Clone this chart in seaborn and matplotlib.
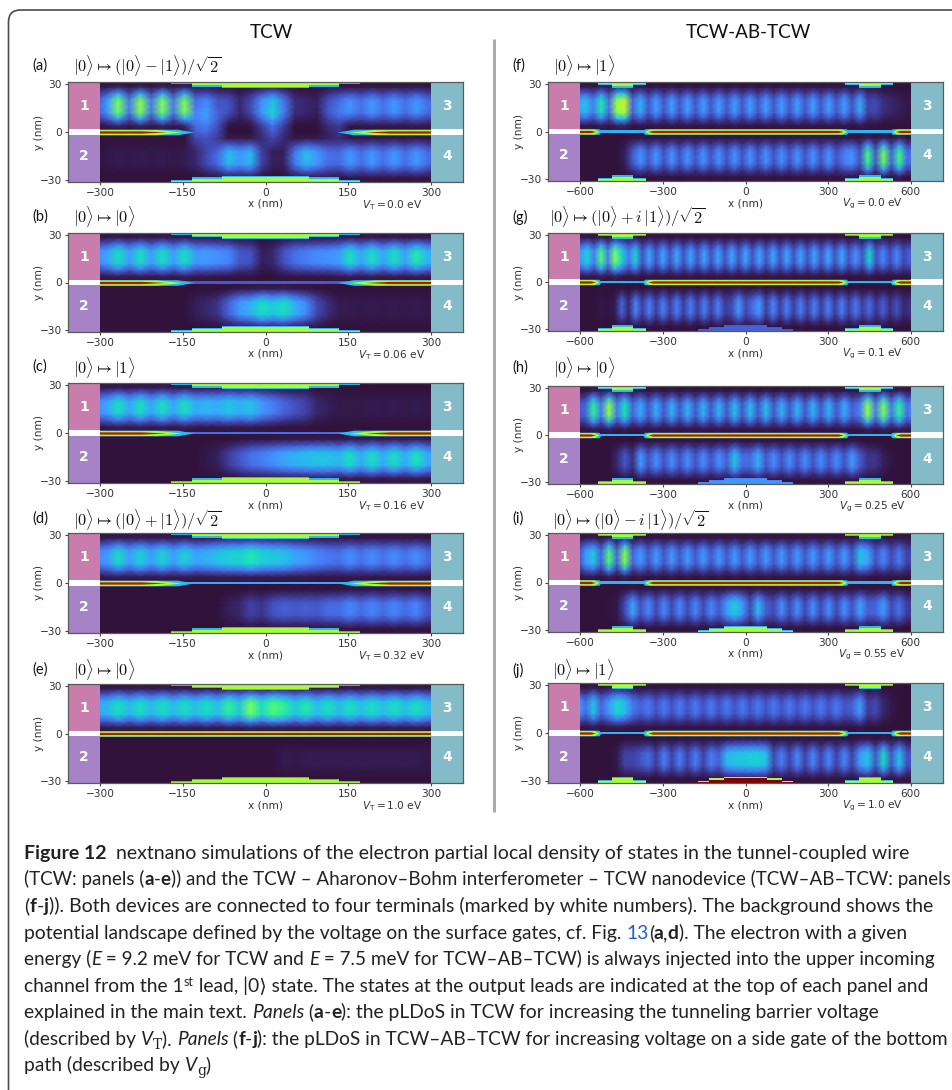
import numpy as np
import pandas as pd
import matplotlib
matplotlib.use('Agg')
import matplotlib.pyplot as plt
import seaborn as sns
from matplotlib.patches import FancyBboxPatch
from matplotlib.transforms import Affine2D

W, H = 952, 1090

# channel densities (colour scale 0-1), one value per grid column
upper_a = [.10,.20,.46,.15,.48,.15,.47,.15,.47,.14, .18,.1,.09,.03,.08,.19,.28,.15,.04,.03, .02,.09,.14,.19,.14,.20,.14,.20,.14,.20, .14,.12]
lower_a = [0,.01,.015,.01,.015,.01,.015,.01,.015,.03, .08,.13,.26,.2,.25,.07,.02,.02,.15,.26, .2,.14,.13,.2,.14,.2,.14,.2,.14,.2, .14,.1]
mid_a = [0,0,0,0,0,0,0,0,0,.12, .14,.08,0,0,0,.05,.12,.05,0,0, 0,.03,.05,0,0,0,0,0,0,0, 0,0]
upper_b = [.18,.22,.33,.21,.33,.21,.33,.21,.33,.2, .21,.19,.17,.1,.09,.02,.03,.09,.14,.16, .18,.19,.21,.33,.22,.33,.22,.33,.22,.36, .25,.25]
lower_b = [0,0,0,0,0,0,0,0,0,.02, .03,.05,.12,.2,.24,.33,.28,.33,.24,.18, .08,.04,.015,.015,.01,.015,.01,.015,.01,.015, .01,.01]
upper_c = [.18,.22,.33,.22,.33,.22,.33,.22,.33,.23, .25,.23,.28,.24,.27,.2,.16,.12,.09,.07, .03,.02,.01,.01,.01,.015,.01,.015,.01,.015, .01,.01]
lower_c = [0,0,0,0,0,0,0,0,0,0, .01,.02,.06,.1,.14,.16,.19,.22,.24,.26, .27,.27,.25,.33,.23,.33,.23,.33,.23,.34, .23,.2]
upper_d = [.18,.2,.32,.21,.3,.21,.3,.21,.3,.22, .24,.27,.3,.3,.35,.3,.28,.27,.22,.2, .17,.15,.14,.18,.14,.18,.14,.18,.14,.18, .13,.1]
lower_d = [0,0,0,0,0,0,0,0,0,0, 0,0,.02,.03,.07,.05,.09,.11,.1,.11, .1,.13,.13,.17,.13,.17,.13,.17,.13,.17, .1,.1]
upper_e = [.22,.25,.33,.25,.33,.25,.33,.25,.33,.26, .33,.26,.38,.28,.46,.32,.42,.38,.28,.36, .26,.33,.26,.33,.26,.33,.26,.33,.26,.33, .26,.25]
lower_e = [0,0,0,0,0,0,0,0,0,0, 0,0,0,0,0,0,0,.015,.01,.015, .015,.015,.015,.015,.015,.015,.015,.015,.015,.015, .01,.01]

upper_f = [.22,.26,.16,.35,.14,.5,.55,.12,.24,.1, .21,.1,.21,.1,.21,.1,.21,.1,.21,.1, .21,.1,.21,.1,.21,.1,.21,.1,.21,.1, .21,.1,.21,.1,.21,.09,.23,.07,.08,.04, .03,.02,.01,.01]
lower_f = [0,0,0,0,0,0,.02,.1,.19,.1, .19,.09,.19,.09,.19,.09,.19,.09,.19,.09, .19,.09,.19,.09,.19,.09,.19,.09,.19,.09, .19,.09,.19,.09,.16,.19,.09,.4,.1,.45, .12,.4,.13,.15]
upper_g = [.2,.3,.16,.42,.16,.46,.3,.15,.3,.09, .22,.09,.22,.09,.22,.09,.22,.09,.22,.09, .22,.09,.22,.09,.22,.09,.22,.09,.22,.09, .22,.09,.22,.09,.22,.09,.22,.09,.22,.09, .19,.09,.3,.09,.17,.08,.17,.08,.12]
lower_g = [0,0,0,.01,.005,.015,.12,.03,.17,.06, .16,.06,.16,.06,.16,.06,.16,.06,.16,.06, .16,.06,.08,.2,.08,.13,.2,.06,.17,.06, .16,.06,.16,.06,.16,.06,.16,.06,.16,.06, .15,.06,.13,.05,.11,.04,.09,.03,.05]
upper_h = [.1,.12,.38,.15,.48,.15,.34,.12,.23,.1, .23,.1,.24,.1,.24,.1,.24,.1,.24,.1, .26,.1,.26,.1,.26,.1,.24,.1,.24,.1, .24,.1,.24,.1,.23,.11,.16,.48,.15,.46, .15,.38,.14,.2]
lower_h = [0,0,0,0,0,.03,.1,.04,.2,.09, .18,.09,.18,.09,.18,.09,.18,.09,.18,.11, .27,.13,.13,.24,.1,.18,.09,.18,.09,.18, .09,.18,.09,.18,.09,.2,.1,.05,.05,.02, .005,0,0,0]
upper_i = [.08,.2,.28,.12,.42,.12,.47,.12,.2,.1, .2,.1,.2,.1,.2,.1,.2,.1,.2,.1, .2,.1,.2,.1,.2,.1,.2,.1,.2,.1, .2,.1,.2,.1,.2,.09,.27,.22,.09,.17, .08,.15,.07,.08]
lower_i = [0,0,0,0,.005,.01,.08,.22,.09,.17, .08,.17,.08,.17,.08,.17,.08,.17,.1,.2, .29,.2,.08,.25,.11,.08,.18,.08,.18,.08, .18,.08,.18,.08,.18,.09,.21,.11,.12,.2, .08,.14,.06,.06]
upper_j = [.22,.13,.27,.12,.2,.31,.26,.15,.11,.15, .09,.15,.09,.15,.09,.15,.09,.15,.09,.15, .09,.15,.09,.15,.09,.15,.09,.15,.09,.15, .09,.15,.09,.15,.09,.11,.2,.06,.08,.03, .01,0,0,0]
lower_j = [0,0,0,0,0,.01,.07,.07,.09,.13, .06,.16,.07,.16,.07,.16,.07,.16,.11,.25, .27,.28,.29,.29,.27,.08,.16,.07,.17,.07, .17,.07,.17,.07,.17,.07,.2,.28,.1,.32, .1,.27,.09,.1]

# cross-section of the two channels, y = -32 .. 32 nm every 4 nm
upper_profile = [0,0,0,0,0,0,0,0,0,.06,.45,.92,1,.92,.45,.06,0]
lower_profile = [0,.06,.45,.92,1,.92,.45,.06,0,0,0,0,0,0,0,0,0]
mid_profile = [0,0,0,0,0,0,.3,.6,.9,1,.8,.3,0,0,0,0,0]

labels = ['(a)','(b)','(c)','(d)','(e)','(f)','(g)','(h)','(i)','(j)']
states = [r'$|0\rangle\mapsto(|0\rangle-|1\rangle)/\sqrt{2}$', r'$|0\rangle\mapsto|0\rangle$', r'$|0\rangle\mapsto|1\rangle$',
          r'$|0\rangle\mapsto(|0\rangle+|1\rangle)/\sqrt{2}$', r'$|0\rangle\mapsto|0\rangle$',
          r'$|0\rangle\mapsto|1\rangle$', r'$|0\rangle\mapsto(|0\rangle+i\,|1\rangle)/\sqrt{2}$', r'$|0\rangle\mapsto|0\rangle$',
          r'$|0\rangle\mapsto(|0\rangle-i\,|1\rangle)/\sqrt{2}$', r'$|0\rangle\mapsto|1\rangle$']
voltages = ['0.0','0.06','0.16','0.32','1.0','0.0','0.1','0.25','0.55','1.0']
uppers = [upper_a,upper_b,upper_c,upper_d,upper_e,upper_f,upper_g,upper_h,upper_i,upper_j]
lowers = [lower_a,lower_b,lower_c,lower_d,lower_e,lower_f,lower_g,lower_h,lower_i,lower_j]
grid_x0 = [-307]*5 + [-610,-600,-610,-610,-610]
grid_dx = [20]*5 + [28.5,25,28.5,28.5,28.5]
mid_strip = [None,.1,.13,.22,None,.24,.24,.24,.24,.24]

# gate outlines: step edges (nm) and depth from the frame (nm)
left_gate_edges = [-172,-133,-78,78,133,172]
left_gate_rim = [1.5,2.8,4.0,2.8,1.5]
left_gate_core = [0.4,1.8,3.0,1.8,0.4]
right_gate_edges = [-536,-487,-408,-363]
right_gate2_edges = [363,412,491,537]
right_gate_rim = [2.0,3.8,2.0]
right_gate_core = [1.1,2.8,1.1]
side_gate_values = [None,None,None,None,None,None,(.1,.11),(.17,.19),(.25,.5),(.5,1.0)]

barrier_left = [(-500,-130),(130,500)]
barrier_e = [(-500,500)]
barrier_right = [(-800,-525),(-375,375),(525,800)]

# axes boxes in pixels: left, top, right, bottom
left_boxes = [(68,82,463,182),(68,233,463,332),(68,383,463,483),(68,533,463,633),(68,684,463,783)]
right_boxes = [(548,82,943,181),(548,233,943,331),(548,386,943,484),(548,533,943,632),(548,683,943,783)]
label_y = [66,217,367,519,670,66,217,368,519,670]
state_shift = [0,0,0,0,0,0,-4,0,-1,-1]

pink, purple, teal = '#c97dac', '#a583c6', '#83bcc8'
cmap = plt.get_cmap('turbo')

sns.set_style('ticks')
plt.rcParams['font.family'] = ['Lato', 'DejaVu Sans']

fig = plt.figure(figsize=(W/100, H/100), dpi=100)
bg = fig.add_axes([0,0,1,1])
bg.set_xlim(0,W)
bg.set_ylim(H,0)
bg.axis('off')
bg.add_patch(FancyBboxPatch((8.5,10),1100,1300,boxstyle='round,pad=0,rounding_size=12',fc='white',ec='#4a4a4a',lw=1.2))
bg.plot([494,494],[39,812],color='#ababab',lw=2.2,solid_capstyle='butt')
bg.text(271,33,'TCW',ha='center',va='center',fontsize=13.6,color='#111111')
bg.text(748,33,'TCW-AB-TCW',ha='center',va='center',fontsize=13.6,color='#111111')


def steps(ax, edges, depth, value, top):
    y = np.array(list(depth)+[depth[-1]])
    if top:
        ax.fill_between(edges, 31-y, 31, step='post', color=cmap(value), lw=0, zorder=3)
    else:
        ax.fill_between(edges, -31, -31+y, step='post', color=cmap(value), lw=0, zorder=3)


def band(ax, a, b, inset, hw, value, z):
    ax.fill_between([a,a+inset,b-inset,b],[0,-hw,-hw,0],[0,hw,hw,0],color=cmap(value),lw=0,zorder=z)


def draw_panel(i, box, span, lead, ticks):
    l,t,r,b = box
    ax = fig.add_axes([l/W, 1-b/H, (r-l)/W, (b-t)/H])
    up = np.array(uppers[i]); lo = np.array(lowers[i])
    density = np.outer(upper_profile, up) + np.outer(lower_profile, lo)
    if i == 0:
        density = density + np.outer(mid_profile, mid_a)
    sns.heatmap(pd.DataFrame(density), vmin=0, vmax=1, cmap='turbo', cbar=False, xticklabels=False,
                yticklabels=False, shading='gouraud', ax=ax)
    ax.collections[0].set_transform(Affine2D().scale(grid_dx[i],4).translate(grid_x0[i],-32)+ax.transData)
    ax.set_facecolor(cmap(0.0))
    ax.set_xlim(-span,span)
    ax.set_ylim(-31,31)

    # gates
    if i < 5:
        for top in (True,False):
            steps(ax,left_gate_edges,left_gate_rim,.25,top)
            steps(ax,left_gate_edges,left_gate_core,.5,top)
    else:
        for top in (True,False):
            for edges in (right_gate_edges,right_gate2_edges):
                steps(ax,edges,right_gate_rim,.25,top)
                steps(ax,edges,right_gate_core,.5,top)
        if side_gate_values[i]:
            steps(ax,left_gate_edges,left_gate_rim,side_gate_values[i][0],False)
            steps(ax,left_gate_edges,left_gate_core,side_gate_values[i][1],False)

    # tunnelling barrier
    if mid_strip[i] is not None:
        band(ax,-span,span,0,.8,mid_strip[i],3)
    sections = barrier_right if i >= 5 else (barrier_e if i == 4 else barrier_left)
    taper = (8,16,18) if i >= 5 else (30,45,45)
    shift = (0,8,20) if i >= 5 else (0,22,50)
    for a,c in sections:
        band(ax,a,c,taper[0],1.75,.25,4)
        band(ax,a+shift[1],c-shift[1],taper[1],1.6,.5,5)
        band(ax,a+shift[2],c-shift[2],taper[2],.7,.93,6)

    # leads
    ax.fill_between([-span,-lead],1.6,31,color=pink,lw=0,zorder=7)
    ax.fill_between([-span,-lead],-31,-1.6,color=purple,lw=0,zorder=7)
    ax.fill_between([lead,span],1.6,31,color=teal,lw=0,zorder=7)
    ax.fill_between([lead,span],-31,-1.6,color=teal,lw=0,zorder=7)
    ax.fill_between([-span,-lead],-1.6,1.6,color='white',lw=0,zorder=7)
    ax.fill_between([lead,span],-1.6,1.6,color='white',lw=0,zorder=7)
    xl = -(span+lead)/2
    for x,y,s in [(xl,16,'1'),(xl,-15,'2'),(-xl,16,'3'),(-xl,-15,'4')]:
        ax.text(x,y,s,color='white',fontsize=10,fontweight='bold',family='DejaVu Sans',ha='center',va='center',zorder=8)

    ax.set_xticks(ticks)
    ax.set_xticklabels(['\u2212%d' % -v if v < 0 else str(v) for v in ticks], family='DejaVu Sans')
    ax.set_yticks([-30,0,30])
    ax.set_yticklabels(['\u221230','0','30'], family='DejaVu Sans')
    ax.tick_params(labelsize=7.6,length=2.5,width=.8,pad=2,color='#444444',labelcolor='#333333',labelrotation=0)
    for s in ax.spines.values():
        s.set_visible(True)
        s.set_color('#5a5a5a')
        s.set_linewidth(.9)
        s.set_zorder(9)

    # panel texts
    mid = l + (r-l)/2
    bg.text(mid,b+22,'x (nm)',ha='center',va='center',fontsize=7.6,family='DejaVu Sans',color='#333333')
    bg.text(l-29,(t+b)/2,'y (nm)',ha='center',va='center',rotation=90,fontsize=7.6,family='DejaVu Sans',color='#333333')
    sub = 'T' if i < 5 else 'g'
    bg.text(l+324,b+23,r'$V_{\mathrm{%s}} = %s$ eV' % (sub,voltages[i]),ha='center',va='center',fontsize=7.6,
            family='DejaVu Sans',color='#333333')
    bg.text(l-36,label_y[i],labels[i],ha='left',va='center',fontsize=10.5,color='#111111')
    bg.text(l+5+state_shift[i],label_y[i],states[i],ha='left',va='center',fontsize=11.8,math_fontfamily='cm',color='#111111')


for n,box in enumerate(left_boxes):
    draw_panel(n,box,358,300,[-300,-150,0,150,300])
for n,box in enumerate(right_boxes):
    draw_panel(n+5,box,718,600,[-600,-300,0,300,600])

# caption, one list of (text, style) per line
caption = [
    [('Figure 12','b'),('  nextnano simulations of the electron partial local density of states in the tunnel-coupled wire','r')],
    [('(TCW: panels (','r'),('a','b'),('-','r'),('e','b'),(')) and the TCW \u2013 Aharonov\u2013Bohm interferometer \u2013 TCW nanodevice (TCW\u2013AB\u2013TCW: panels','r')],
    [('(','r'),('f','b'),('-','r'),('j','b'),(')). Both devices are connected to four terminals (marked by white numbers). The background shows the','r')],
    [('potential landscape defined by the voltage on the surface gates, cf. Fig. ','r'),('13','l'),('(','r'),('a','b'),(',','r'),('d','b'),('). The electron with a given','r')],
    [('energy (','r'),('E','i'),(' = 9.2 meV for TCW and ','r'),('E','i'),(' = 7.5 meV for TCW\u2013AB\u2013TCW) is always injected into the upper incoming','r')],
    [('channel from the 1','r'),('st','sup'),(' lead, |0\u27e9 state. The states at the output leads are indicated at the top of each panel and','r')],
    [('explained in the main text. ','r'),('Panels','i'),(' (','r'),('a','b'),('-','r'),('e','b'),('): the pLDoS in TCW for increasing the tunneling barrier voltage','r')],
    [('(described by ','r'),('V','i'),('T','sub'),('). ','r'),('Panels','i'),(' (','r'),('f','b'),('-','r'),('j','b'),('): the pLDoS in TCW\u2013AB\u2013TCW for increasing voltage on a side gate of the bottom','r')],
    [('path (described by ','r'),('V','i'),('g','sub'),(')','r')],
]
caption_y = [854,880,907,934,960,987,1013,1040,1066]
caption_size = [14.0,13.5,14.0,13.9,13.6,13.9,13.9,13.8,13.9]
styles = {'r':{}, 'b':{'fontweight':'bold'}, 'i':{'fontstyle':'italic'}, 'l':{'color':'#1f5fd0'},
          'sup':{'fontsize':9}, 'sub':{'fontsize':10,'family':'DejaVu Serif'}}
offset = {'sup':-6,'sub':4}
rend = fig.canvas.get_renderer()


def text_width(s, kw):
    a = bg.text(0,0,s+'|',**kw)
    c = bg.text(0,0,'|',**kw)
    w = a.get_window_extent(rend).width - c.get_window_extent(rend).width
    a.remove()
    c.remove()
    return w


for line,y,size in zip(caption,caption_y,caption_size):
    x = 24
    for s,st in line:
        kw = dict(fontsize=size,color='#222222',va='baseline',ha='left')
        kw.update(styles[st])
        bg.text(x,y+5+offset.get(st,0),s,**kw)
        x += text_width(s,kw)

fig.savefig('out.png',dpi=100)
